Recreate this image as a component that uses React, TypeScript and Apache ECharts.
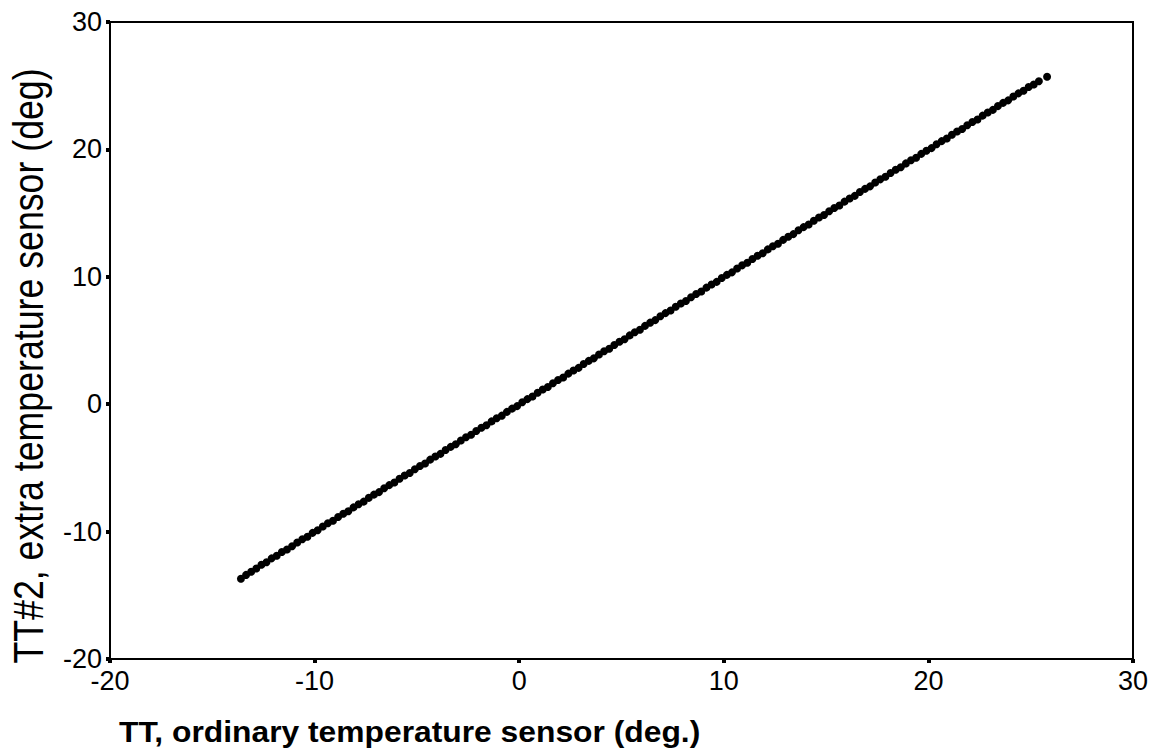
import React, { useEffect, useRef } from "react";
import * as echarts from "echarts";

const xValues = [
  -13.6,-13.35,-13.1,-12.85,-12.6,-12.35,-12.1,-11.85,-11.6,-11.35,
  -11.1,-10.85,-10.6,-10.35,-10.1,-9.85,-9.6,-9.35,-9.1,-8.85,
  -8.6,-8.35,-8.1,-7.85,-7.6,-7.35,-7.1,-6.85,-6.6,-6.35,
  -6.1,-5.85,-5.6,-5.35,-5.1,-4.85,-4.6,-4.35,-4.1,-3.85,
  -3.6,-3.35,-3.1,-2.85,-2.6,-2.35,-2.1,-1.85,-1.6,-1.35,
  -1.1,-0.85,-0.6,-0.35,-0.1,0.15,0.4,0.65,0.9,1.15,
  1.4,1.65,1.9,2.15,2.4,2.65,2.9,3.15,3.4,3.65,
  3.9,4.15,4.4,4.65,4.9,5.15,5.4,5.65,5.9,6.15,
  6.4,6.65,6.9,7.15,7.4,7.65,7.9,8.15,8.4,8.65,
  8.9,9.15,9.4,9.65,9.9,10.15,10.4,10.65,10.9,11.15,
  11.4,11.65,11.9,12.15,12.4,12.65,12.9,13.15,13.4,13.65,
  13.9,14.15,14.4,14.65,14.9,15.15,15.4,15.65,15.9,16.15,
  16.4,16.65,16.9,17.15,17.4,17.65,17.9,18.15,18.4,18.65,
  18.9,19.15,19.4,19.65,19.9,20.15,20.4,20.65,20.9,21.15,
  21.4,21.65,21.9,22.15,22.4,22.65,22.9,23.15,23.4,23.65,
  23.9,24.15,24.4,24.65,24.9,25.15,25.4,25.8,
];

const yValues = [
  -13.7,-13.4,-13.15,-12.9,-12.6,-12.4,-12.1,-11.9,-11.6,-11.4,
  -11.15,-10.85,-10.6,-10.4,-10.1,-9.9,-9.6,-9.35,-9.15,-8.85,
  -8.6,-8.4,-8.1,-7.85,-7.65,-7.35,-7.1,-6.9,-6.6,-6.35,
  -6.15,-5.85,-5.6,-5.4,-5.1,-4.85,-4.65,-4.35,-4.1,-3.9,
  -3.6,-3.35,-3.15,-2.85,-2.6,-2.4,-2.1,-1.85,-1.65,-1.35,
  -1.1,-0.9,-0.6,-0.35,-0.15,0.15,0.4,0.6,0.9,1.15,
  1.35,1.65,1.9,2.1,2.4,2.65,2.85,3.15,3.4,3.6,
  3.9,4.15,4.35,4.65,4.9,5.1,5.4,5.65,5.85,6.15,
  6.4,6.6,6.9,7.15,7.35,7.65,7.9,8.1,8.4,8.65,
  8.85,9.15,9.4,9.6,9.9,10.15,10.35,10.65,10.9,11.1,
  11.4,11.65,11.85,12.15,12.4,12.6,12.9,13.15,13.35,13.65,
  13.9,14.1,14.4,14.65,14.85,15.15,15.4,15.6,15.9,16.15,
  16.35,16.65,16.9,17.1,17.4,17.65,17.85,18.15,18.4,18.6,
  18.9,19.15,19.35,19.65,19.9,20.1,20.4,20.65,20.85,21.15,
  21.4,21.6,21.9,22.15,22.35,22.65,22.9,23.1,23.4,23.65,
  23.85,24.15,24.4,24.6,24.9,25.1,25.35,25.7,
];

const xTitle = "TT, ordinary temperature sensor (deg.)";
const yTitle = "TT#2, extra temperature sensor (deg)";

export default function App() {
  const ref = useRef<HTMLDivElement>(null);
  useEffect(() => {
    if (!ref.current) return;
    const chart = echarts.init(ref.current, undefined, { renderer: "svg" });
    const data = xValues.map((x, i) => [x, yValues[i]]);
    const font = "'Liberation Sans', Arial, sans-serif";
    chart.setOption({
      animation: false,
      backgroundColor: "#ffffff",
      grid: {
        left: 110,
        right: 24,
        top: 22,
        bottom: 97,
        outerBoundsMode: "none",
        containLabel: false,
        show: true,
        borderColor: "#000",
        borderWidth: 2,
        backgroundColor: "transparent",
      },
      xAxis: {
        type: "value",
        min: -20,
        max: 30,
        interval: 10,
        axisLine: { show: true, onZero: false, lineStyle: { color: "#000", width: 2 } },
        axisTick: { show: true, inside: false, length: 4, lineStyle: { color: "#000", width: 4 } },
        splitLine: { show: false },
        axisLabel: { color: "#000", fontSize: 27, fontFamily: font, margin: 8 },
      },
      yAxis: {
        type: "value",
        min: -20,
        max: 30,
        interval: 10,
        axisLine: { show: true, onZero: false, lineStyle: { color: "#000", width: 2 } },
        axisTick: { show: true, inside: false, length: 4, lineStyle: { color: "#000", width: 4 } },
        splitLine: { show: false },
        axisLabel: { color: "#000", fontSize: 27, fontFamily: font, margin: 8 },
      },
      graphic: [
        {
          type: "text",
          x: 119,
          y: 732,
          scaleX: 1.06,
          style: {
            text: xTitle,
            fill: "#000",
            font: `bold 30px ${font}`,
            align: "left",
            verticalAlign: "middle",
          },
        },
        {
          type: "text",
          x: 28,
          y: 366,
          rotation: Math.PI / 2,
          scaleX: 0.85,
          style: {
            text: yTitle,
            fill: "#000",
            font: `42px ${font}`,
            align: "center",
            verticalAlign: "middle",
          },
        },
      ],
      series: [
        {
          type: "scatter",
          data,
          symbol: "circle",
          symbolSize: 8,
          itemStyle: { color: "#000", opacity: 1 },
        },
      ],
    });
    return () => chart.dispose();
  }, []);
  return (
    <div
      ref={ref}
      style={{ position: "fixed", left: 0, top: 0, width: 1157, height: 756, background: "#fff" }}
    />
  );
}
